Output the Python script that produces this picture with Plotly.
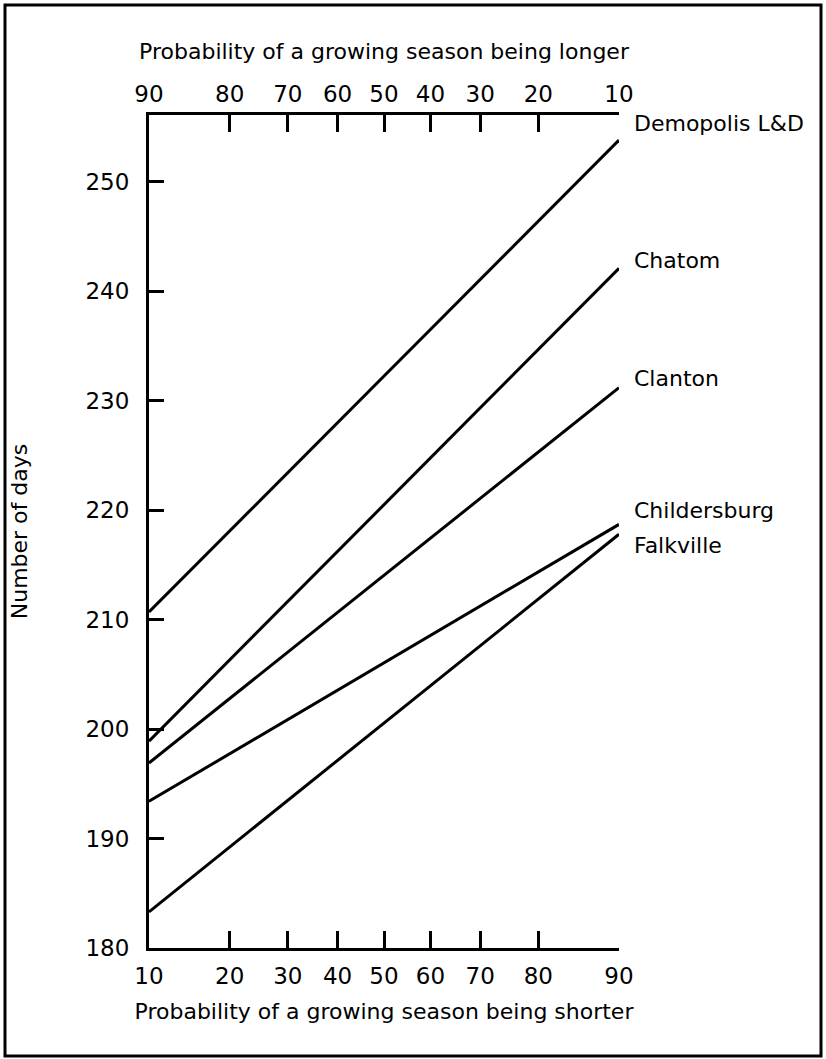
from statistics import NormalDist
import plotly.graph_objects as go

# ---- data ----
prob_shorter = [10, 90]                       # % probability of season being shorter (bottom axis)
tick_probs = [10, 20, 30, 40, 50, 60, 70, 80, 90]
y_ticks = [180, 190, 200, 210, 220, 230, 240, 250]

stations = ["Demopolis L&D", "Chatom", "Clanton", "Childersburg", "Falkville"]
demopolis = [210.7, 253.8]
chatom = [198.9, 242.1]
clanton = [196.9, 231.2]
childersburg = [193.4, 218.7]
falkville = [183.3, 217.8]
series = [demopolis, chatom, clanton, childersburg, falkville]

# label vertical offsets (pixels) relative to each line end
label_shift = [17, 8, 9, 14, -11]

# ---- normal-probability scale ----
nd = NormalDist()
def z(p):
    return nd.inv_cdf(p / 100.0)

x_vals = [z(p) for p in prob_shorter]
tick_z = [z(p) for p in tick_probs]
bottom_text = [str(p) for p in tick_probs]
top_text = [str(100 - p) for p in tick_probs]

W, H = 826, 1059
L, R, T, B = 149, 619, 115, 948          # plot-area pixel box
FONT = "DejaVu Sans"
INK = "black"

fig = go.Figure()
for name, vals in zip(stations, series):
    fig.add_trace(go.Scatter(x=x_vals, y=vals, mode="lines", name=name,
                             line=dict(color=INK, width=3), showlegend=False,
                             hoverinfo="skip"))
# invisible trace to activate top axis
fig.add_trace(go.Scatter(x=x_vals, y=demopolis, xaxis="x2", mode="lines",
                         line=dict(color="rgba(0,0,0,0)", width=0),
                         showlegend=False, hoverinfo="skip"))

xr = [x_vals[0] - 1e-9, x_vals[1] + 1e-9]
yr = [180, 256.1]

axis_common = dict(showgrid=False, zeroline=False, showline=True, linecolor=INK,
                   linewidth=3, ticks="inside", tickwidth=3, tickcolor=INK,
                   tickfont=dict(family=FONT, size=23, color=INK))

fig.update_layout(
    width=W, height=H,
    margin=dict(l=L, r=W - R, t=T, b=H - B, autoexpand=False),
    paper_bgcolor="white", plot_bgcolor="white",
    font=dict(family=FONT, color=INK),
    xaxis=dict(range=xr, tickvals=tick_z, ticktext=bottom_text, ticklen=17,
               ticklabelstandoff=5,
               title=dict(text="Probability of a growing season being shorter",
                          font=dict(family=FONT, size=22, color=INK), standoff=17),
               **axis_common),
    xaxis2=dict(range=xr, overlaying="x", side="top", tickvals=tick_z,
                ticktext=top_text, ticklen=17, ticklabelstandoff=1,
                title=dict(text="Probability of a growing season being longer",
                           font=dict(family=FONT, size=22, color=INK), standoff=16),
                **axis_common),
    yaxis=dict(range=yr, tickvals=y_ticks, ticklen=15, ticklabelstandoff=12,
               title=dict(text="Number of days",
                          font=dict(family=FONT, size=22, color=INK), standoff=52),
               **axis_common),
)

# station labels at the right end of each line
for name, vals, sh in zip(stations, series, label_shift):
    fig.add_annotation(x=1 + (632 - R) / (R - L), xref="paper", y=vals[1], yref="y",
                       yshift=sh, text=name, showarrow=False, xanchor="left",
                       yanchor="middle", font=dict(family=FONT, size=22, color=INK))

# outer frame
def px_x(px):
    return (px - L) / (R - L)

def px_y(py):
    return (B - py) / (B - T)

fig.add_shape(type="rect", xref="paper", yref="paper",
              x0=px_x(5), x1=px_x(821), y0=px_y(1056), y1=px_y(5),
              line=dict(color=INK, width=3), fillcolor="rgba(0,0,0,0)")

fig.write_html("out.html", config={"displayModeBar": False},
               post_script="document.body.style.margin='0';document.body.style.padding='0';")
